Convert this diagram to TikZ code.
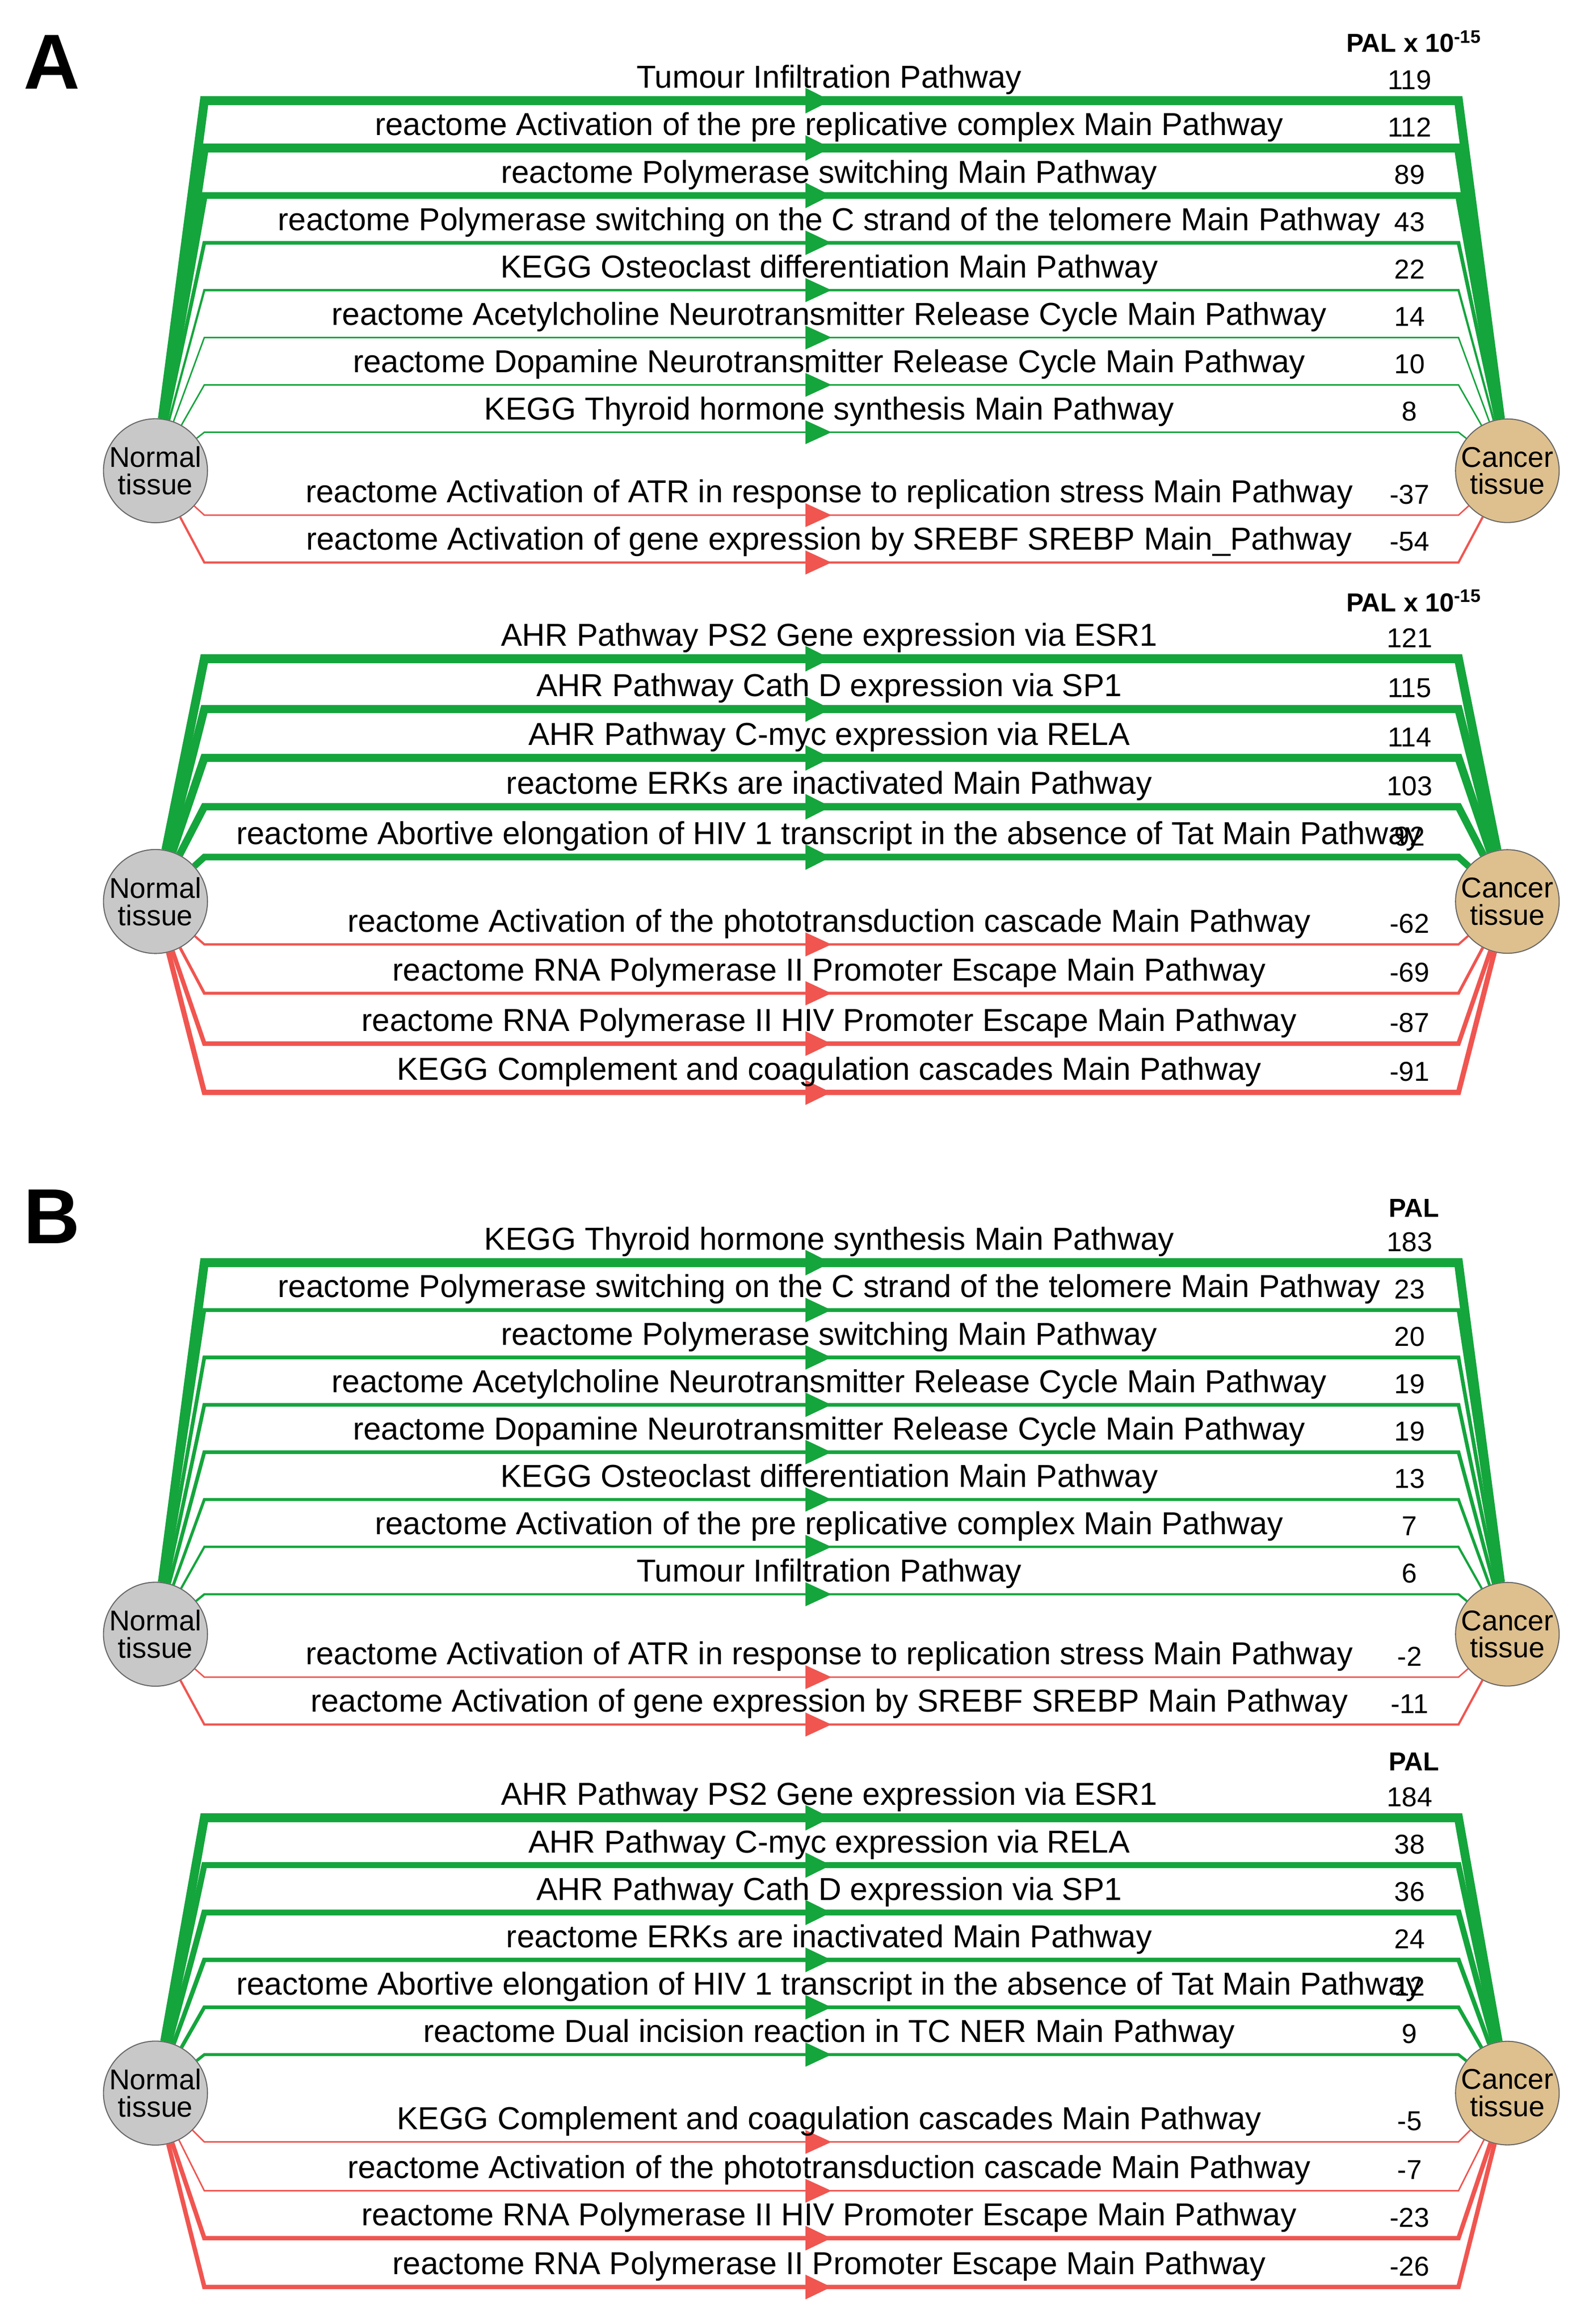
\documentclass[tikz,border=0pt]{standalone}
\usepackage{fontspec}
\setmainfont{Liberation Sans}
\usetikzlibrary{arrows.meta,decorations.markings}

\definecolor{upgreen}{RGB}{20,165,60}
\definecolor{downred}{RGB}{240,85,80}
\definecolor{normalfill}{RGB}{200,200,200}
\definecolor{cancerfill}{RGB}{222,192,142}

\tikzset{
  tissue/.style={circle,draw=black!60,minimum size=1.4cm,inner sep=0pt,align=center,
    font=\fontsize{11}{10.5}\selectfont},
  pathline/.style={line join=miter,postaction={decorate},
    decoration={markings,mark=at position 0.5 with {\arrow{Triangle[length=10pt 0,width=9pt 0]}}}},
  lbl/.style={font=\fontsize{12.2}{13}\selectfont,inner sep=0pt},
  val/.style={font=\fontsize{10.5}{12}\selectfont,inner sep=0pt},
  hdr/.style={font=\bfseries\fontsize{10}{12}\selectfont,inner sep=0pt},
  panelmark/.style={font=\bfseries\fontsize{30}{30}\selectfont,inner sep=0pt}
}

% one pathway row: normal, cancer, y, width (px), colour, label, value
\newcommand{\pathrow}[7]{%
  \draw[pathline,#5,line width=#4*0.567pt] (#1) -- (138,#3) -- (985,#3) -- (#2);
  \node[lbl] at (560,#3-14) {#6};
  \node[val] at (952,#3-14) {#7};
}

\begin{document}
\begin{tikzpicture}[x=0.02cm,y=-0.02cm]
  \useasboundingbox (0,0) rectangle (1073,1570);

  \node[panelmark] (markA) at (35,42) {A};
  \node[panelmark] (markB) at (35,822) {B};

  % panel A, top
  \node[hdr] (hdr1) at (955,28) {PAL x 10\textsuperscript{-15}};
  \node[tissue,fill=normalfill] (normal1) at (105,318) {Normal\\tissue};
  \node[tissue,fill=cancerfill] (cancer1) at (1018,318) {Cancer\\tissue};
  \pathrow{normal1}{cancer1}{68}{6}{upgreen}{Tumour Infiltration Pathway}{119}
  \pathrow{normal1}{cancer1}{100}{6}{upgreen}{reactome Activation of the pre replicative complex Main Pathway}{112}
  \pathrow{normal1}{cancer1}{132}{4.5}{upgreen}{reactome Polymerase switching Main Pathway}{89}
  \pathrow{normal1}{cancer1}{164}{2.5}{upgreen}{reactome Polymerase switching on the C strand of the telomere Main Pathway}{43}
  \pathrow{normal1}{cancer1}{196}{1.5}{upgreen}{KEGG Osteoclast differentiation Main Pathway}{22}
  \pathrow{normal1}{cancer1}{228}{1}{upgreen}{reactome Acetylcholine Neurotransmitter Release Cycle Main Pathway}{14}
  \pathrow{normal1}{cancer1}{260}{1}{upgreen}{reactome Dopamine Neurotransmitter Release Cycle Main Pathway}{10}
  \pathrow{normal1}{cancer1}{292}{1}{upgreen}{KEGG Thyroid hormone synthesis Main Pathway}{8}
  \pathrow{normal1}{cancer1}{348}{1}{downred}{reactome Activation of ATR in response to replication stress Main Pathway}{-37}
  \pathrow{normal1}{cancer1}{380}{1.5}{downred}{reactome Activation of gene expression by SREBF SREBP Main\_Pathway}{-54}

  % panel A, bottom
  \node[hdr] (hdr2) at (955,406) {PAL x 10\textsuperscript{-15}};
  \node[tissue,fill=normalfill] (normal2) at (105,609) {Normal\\tissue};
  \node[tissue,fill=cancerfill] (cancer2) at (1018,609) {Cancer\\tissue};
  \pathrow{normal2}{cancer2}{445}{6}{upgreen}{AHR Pathway PS2 Gene expression via ESR1}{121}
  \pathrow{normal2}{cancer2}{479}{5.5}{upgreen}{AHR Pathway Cath D expression via SP1}{115}
  \pathrow{normal2}{cancer2}{512}{5.5}{upgreen}{AHR Pathway C-myc expression via RELA}{114}
  \pathrow{normal2}{cancer2}{545}{5}{upgreen}{reactome ERKs are inactivated Main Pathway}{103}
  \pathrow{normal2}{cancer2}{579}{4.5}{upgreen}{reactome Abortive elongation of HIV 1 transcript in the absence of Tat Main Pathway}{92}
  \pathrow{normal2}{cancer2}{638}{1.5}{downred}{reactome Activation of the phototransduction cascade Main Pathway}{-62}
  \pathrow{normal2}{cancer2}{671}{2}{downred}{reactome RNA Polymerase II Promoter Escape Main Pathway}{-69}
  \pathrow{normal2}{cancer2}{705}{3}{downred}{reactome RNA Polymerase II HIV Promoter Escape Main Pathway}{-87}
  \pathrow{normal2}{cancer2}{738}{3.5}{downred}{KEGG Complement and coagulation cascades Main Pathway}{-91}

  % panel B, top
  \node[hdr] (hdr3) at (955,816) {PAL};
  \node[tissue,fill=normalfill] (normal3) at (105,1104) {Normal\\tissue};
  \node[tissue,fill=cancerfill] (cancer3) at (1018,1104) {Cancer\\tissue};
  \pathrow{normal3}{cancer3}{853}{6}{upgreen}{KEGG Thyroid hormone synthesis Main Pathway}{183}
  \pathrow{normal3}{cancer3}{885}{2.5}{upgreen}{reactome Polymerase switching on the C strand of the telomere Main Pathway}{23}
  \pathrow{normal3}{cancer3}{917}{2.5}{upgreen}{reactome Polymerase switching Main Pathway}{20}
  \pathrow{normal3}{cancer3}{949}{2.5}{upgreen}{reactome Acetylcholine Neurotransmitter Release Cycle Main Pathway}{19}
  \pathrow{normal3}{cancer3}{981}{2.5}{upgreen}{reactome Dopamine Neurotransmitter Release Cycle Main Pathway}{19}
  \pathrow{normal3}{cancer3}{1013}{2}{upgreen}{KEGG Osteoclast differentiation Main Pathway}{13}
  \pathrow{normal3}{cancer3}{1045}{1.5}{upgreen}{reactome Activation of the pre replicative complex Main Pathway}{7}
  \pathrow{normal3}{cancer3}{1077}{1.5}{upgreen}{Tumour Infiltration Pathway}{6}
  \pathrow{normal3}{cancer3}{1133}{1}{downred}{reactome Activation of ATR in response to replication stress Main Pathway}{-2}
  \pathrow{normal3}{cancer3}{1165}{1.5}{downred}{reactome Activation of gene expression by SREBF SREBP Main Pathway}{-11}

  % panel B, bottom
  \node[hdr] (hdr4) at (955,1190) {PAL};
  \node[tissue,fill=normalfill] (normal4) at (105,1414) {Normal\\tissue};
  \node[tissue,fill=cancerfill] (cancer4) at (1018,1414) {Cancer\\tissue};
  \pathrow{normal4}{cancer4}{1228}{6}{upgreen}{AHR Pathway PS2 Gene expression via ESR1}{184}
  \pathrow{normal4}{cancer4}{1260}{4}{upgreen}{AHR Pathway C-myc expression via RELA}{38}
  \pathrow{normal4}{cancer4}{1292}{4}{upgreen}{AHR Pathway Cath D expression via SP1}{36}
  \pathrow{normal4}{cancer4}{1324}{3}{upgreen}{reactome ERKs are inactivated Main Pathway}{24}
  \pathrow{normal4}{cancer4}{1356}{2.5}{upgreen}{reactome Abortive elongation of HIV 1 transcript in the absence of Tat Main Pathway}{12}
  \pathrow{normal4}{cancer4}{1388}{2}{upgreen}{reactome Dual incision reaction in TC NER Main Pathway}{9}
  \pathrow{normal4}{cancer4}{1447}{1}{downred}{KEGG Complement and coagulation cascades Main Pathway}{-5}
  \pathrow{normal4}{cancer4}{1480}{1}{downred}{reactome Activation of the phototransduction cascade Main Pathway}{-7}
  \pathrow{normal4}{cancer4}{1512}{3}{downred}{reactome RNA Polymerase II HIV Promoter Escape Main Pathway}{-23}
  \pathrow{normal4}{cancer4}{1545}{3}{downred}{reactome RNA Polymerase II Promoter Escape Main Pathway}{-26}
\end{tikzpicture}
\end{document}
